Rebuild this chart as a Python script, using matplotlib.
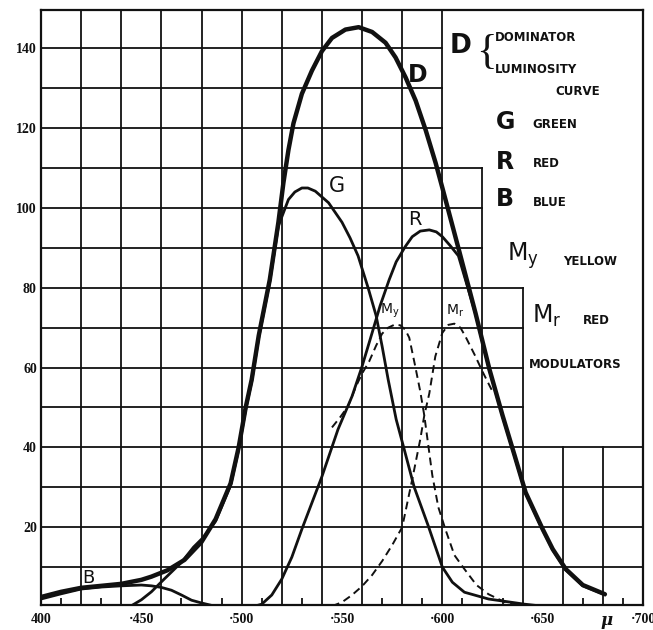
import matplotlib
matplotlib.use("Agg")
import matplotlib.pyplot as plt

# curve readings (wavelength in m-mu, relative value)
d_x = [400, 410, 420, 430, 440, 450, 455, 463, 471.5, 480, 487, 494.5, 498.5, 502, 505,
       508.5, 514, 518.3, 520.8, 523.3, 525.8, 530, 535, 540, 545, 551.7, 558.3, 565,
       571.7, 576.7, 581.7, 586.7, 591.7, 596.7, 600.3, 604, 608.5, 616.5, 623.5, 630,
       636, 641.5, 650, 655, 661.5, 670, 681]
d_y = [2.5, 3.8, 4.8, 5.3, 5.8, 6.8, 7.6, 9.2, 11.8, 16.3, 22, 31, 40, 50, 57,
       68, 82, 96.4, 106.3, 114.5, 121.2, 128.6, 134.4, 139.3, 142.6, 144.7, 145.3, 144.1,
       141.4, 137.7, 132.7, 126.9, 119.5, 111.2, 104.5, 97.5, 89, 73.7, 59.5, 48,
       38, 28.7, 19.5, 14.5, 9.5, 5.5, 3.2]

g_x = [445, 450, 455, 461, 470, 476, 481, 487, 494.5, 498.5, 502, 505, 508.5, 514, 518.3,
       523.3, 526.5, 530, 533, 536.7, 543.3, 550, 554, 558, 563, 567, 570, 573, 577, 581,
       586, 593, 600, 605, 611, 623, 641, 650]
g_y = [0.3, 1.8, 3.8, 6.8, 11.2, 15, 17.5, 21.5, 30.5, 39.5, 49.5, 56.5, 67.5, 81.5, 95.5,
       102.1, 104, 105, 105, 104.2, 101.3, 96.4, 92.5, 88, 80, 73, 65.3, 57, 47, 39.5,
       30, 20.3, 10, 6.2, 3.7, 2, 0.7, 0.2]

r_x = [505, 510, 515, 520, 525, 530, 540, 548, 555, 560, 565, 569, 573.5, 577, 581.5, 585,
       589, 593.5, 597, 600, 604, 608, 616.5, 623.5, 630, 636, 641.5, 650, 655, 661.5, 670, 681]
r_y = [0, 0.7, 3, 7, 12.5, 19.5, 32.7, 44.5, 52.8, 60.3, 68.7, 75.5, 82, 86.5, 90.3, 92.8,
       94.2, 94.5, 94, 92.8, 90.5, 88, 73.5, 59.3, 47.8, 37.8, 28.5, 19.3, 14.3, 9.3, 5.3, 3.1]

b_x = [400, 410, 420, 430, 440, 450, 455, 460, 465, 470, 475, 480, 485, 495]
b_y = [2, 3.3, 4.5, 5, 5.3, 5.5, 5.3, 4.9, 4.2, 3, 1.7, 1, 0.4, 0.1]

my_x = [545, 549, 553, 557, 560, 563.5, 567, 570, 573, 576, 579, 581.5, 583.5, 586.5, 589,
        591, 595, 598, 601.5, 606, 611, 617, 623, 632, 640]
my_y = [45, 47.5, 50.3, 55.3, 58.5, 61.5, 65.5, 68.5, 70, 70.7, 70.6, 69.5, 67.5, 60.3, 54,
        48, 33, 25, 19.5, 13, 9.5, 5.5, 3.2, 1, 0.2]

mr_x = [545, 550, 555, 560, 565, 570, 575, 580, 585, 589, 591, 593.5, 596.5, 600, 603, 606,
        609, 611.5, 616.5, 620, 625]
mr_y = [0.2, 1.2, 3, 5.2, 8, 11.5, 15.5, 20, 32, 42, 48, 53.5, 62.8, 68.7, 70.7, 71,
        70, 67.8, 62.8, 59, 54]

x_ticks = [400, 450, 500, 550, 600, 650, 700]
x_labels = ["400", "·450", "·500", "·550", "·600", "·650", "·700"]
y_ticks = [20, 40, 60, 80, 100, 120, 140]

ink = "#111111"
y_lo, y_hi = 0.5, 149.6

fig = plt.figure(figsize=(6.53, 6.30), dpi=100)
ax = fig.add_axes([0.0628, 0.0397, 0.9219, 0.9444])
ax.set_xlim(400, 700)
ax.set_ylim(y_lo, y_hi)

# stepped grid: the key box on the right cuts the grid away
def grid_right(y):
    if y > 110:
        return 600
    if y > 80:
        return 620
    if y > 40:
        return 640
    return 700

def grid_top(x):
    if x <= 600:
        return y_hi
    if x <= 620:
        return 110
    if x <= 640:
        return 80
    return 40

for y in range(10, 150, 10):
    ax.plot([400, grid_right(y)], [y, y], color=ink, lw=1.3, zorder=1)
for x in range(420, 700, 20):
    ax.plot([x, x], [y_lo, grid_top(x)], color=ink, lw=1.3, zorder=1)

for s in ax.spines.values():
    s.set_linewidth(1.6)
    s.set_color(ink)

ax.plot(b_x, b_y, color=ink, lw=2.0, zorder=3)
ax.plot(g_x, g_y, color=ink, lw=2.0, zorder=3)
ax.plot(r_x, r_y, color=ink, lw=2.0, zorder=3)
ax.plot(d_x, d_y, color=ink, lw=3.2, zorder=4, solid_capstyle="round")
ax.plot(my_x, my_y, color=ink, lw=1.4, ls=(0, (4, 2.5)), zorder=3)
ax.plot(mr_x, mr_y, color=ink, lw=1.4, ls=(0, (4, 2.5)), zorder=3)

ax.set_xticks(x_ticks)
ax.set_xticklabels(x_labels)
ax.set_xticks(range(410, 700, 20), minor=True)
ax.set_yticks(y_ticks)
ax.tick_params(axis="both", which="major", length=0, labelsize=10, colors=ink)
ax.tick_params(axis="x", which="major", pad=6)
ax.tick_params(axis="y", which="major", pad=3)
ax.tick_params(axis="x", which="minor", direction="in", length=5, width=1.3, color=ink)
for lab in ax.get_xticklabels() + ax.get_yticklabels():
    lab.set_family("Liberation Serif")
    lab.set_fontweight("bold")

ax.annotate("μ", xy=(682.5, 0), xycoords=("data", "axes fraction"), xytext=(-1, -11),
            textcoords="offset points", ha="center", va="center", fontsize=12,
            fontweight="bold", family="DejaVu Serif", style="italic", color=ink)

# labels on the curves
lab = dict(color=ink, ha="center", va="center", family="DejaVu Sans", zorder=5)
ax.text(587.5, 133.3, "D", fontsize=17, fontweight="bold", **lab)
ax.text(547.5, 105.5, "G", fontsize=15, **lab)
ax.text(586.5, 97.2, "R", fontsize=14, **lab)
ax.text(423.5, 7.3, "B", fontsize=13, **lab)
ax.text(574, 74.3, r"$\mathsf{M_y}$", fontsize=10, **lab)
ax.text(606.5, 74.3, r"$\mathsf{M_r}$", fontsize=10, **lab)

# key in the box on the right
big = dict(color=ink, ha="left", va="center", family="DejaVu Sans", fontweight="bold", zorder=5)
small = dict(color=ink, ha="left", va="center", family="DejaVu Sans", fontweight="bold",
             fontsize=8.5, zorder=5)
ax.text(603.5, 140.6, "D", fontsize=19, **big)
ax.text(621.8, 138.8, "{", fontsize=31, color=ink, ha="center", va="center",
        family="Liberation Serif", zorder=5)
ax.text(626, 142.6, "DOMINATOR", **small)
ax.text(626, 134.6, "LUMINOSITY", **small)
ax.text(656.5, 129.1, "CURVE", **small)
ax.text(626.5, 121.6, "G", fontsize=17, **big)
ax.text(645, 120.8, "GREEN", **small)
ax.text(626.5, 111.6, "R", fontsize=17, **big)
ax.text(645, 111.1, "RED", **small)
ax.text(626.5, 102.2, "B", fontsize=17, **big)
ax.text(645, 101.4, "BLUE", **small)
ax.text(632, 88.0, r"$\mathsf{M_y}$", fontsize=17, **big)
ax.text(660, 86.7, "YELLOW", **small)
ax.text(644.5, 73.0, r"$\mathsf{M_r}$", fontsize=17, **big)
ax.text(670, 71.7, "RED", **small)
ax.text(643, 60.8, "MODULATORS", **small)

fig.savefig("out.png", dpi=100)
